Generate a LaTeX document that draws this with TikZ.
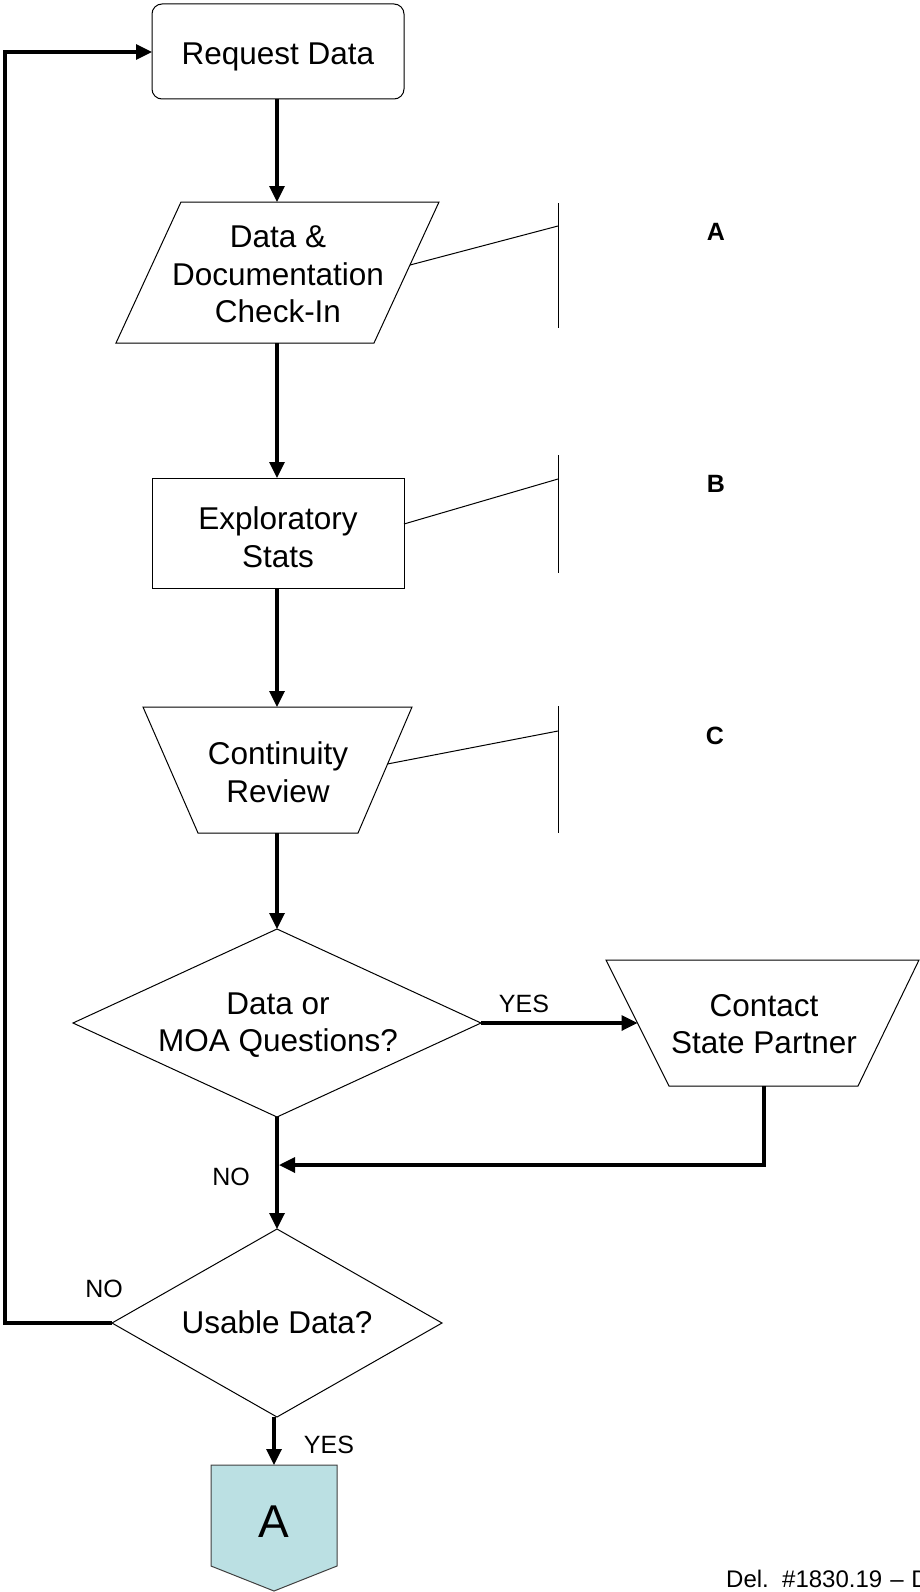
\documentclass[tikz,border=0pt]{standalone}
\usepackage{fontspec}
\setmainfont{Liberation Sans}
\usetikzlibrary{arrows.meta,calc}
\definecolor{offfill}{HTML}{BBE0E3}
\definecolor{offline}{HTML}{404040}
\begin{document}
\begin{tikzpicture}[x=1pt,y=-1pt,
  shp/.style={draw=black, line width=1pt, fill=white, line join=miter},
  conn/.style={draw=black, line width=3.3pt, line join=miter, -{Triangle[length=16pt,width=15pt]}},
  ann/.style={draw=black, line width=1pt},
  txt/.style={font=\fontsize{31.5}{37.5}\selectfont, align=center, inner sep=0pt},
  lbl/.style={font=\fontsize{25}{30}\selectfont, inner sep=0pt, anchor=base},
  blbl/.style={font=\fontsize{25}{30}\selectfont\bfseries, inner sep=0pt, anchor=base},
]
\useasboundingbox (0,0) rectangle (920,1592);

% ---------- Request Data ----------
\coordinate (reqNW) at (152,4);
\coordinate (reqSE) at (404,99);
\coordinate (reqW) at (152,52);
\coordinate (reqS) at (277,99);
\draw[shp, rounded corners=10pt] (reqNW) rectangle (reqSE);
\node[txt, anchor=base] (treq) at (278,65) {Request Data};

% ---------- Data & Documentation Check-In ----------
\coordinate (chkA) at (181,202);
\coordinate (chkB) at (439,202);
\coordinate (chkC) at (374,343);
\coordinate (chkD) at (116,343);
\coordinate (chkN) at (277,202);
\coordinate (chkS) at (277,343);
\draw[shp] (chkA) -- (chkB) -- (chkC) -- (chkD) -- cycle;
\node[txt] (tchk) at (278,274.5) {Data \&\\Documentation\\Check-In};
\coordinate (chkR) at ($(chkB)!0.447!(chkC)$);
\coordinate (annAj) at (558,226);
\coordinate (annAt) at (558,203);
\coordinate (annAb) at (558,328);
\draw[ann] (chkR) -- (annAj);
\draw[ann] (annAt) -- (annAb);
\node[blbl] (labA) at (716,240) {A};

% ---------- Exploratory Stats ----------
\coordinate (expNW) at (152,478);
\coordinate (expSE) at (404,588);
\coordinate (expN) at (277,478);
\coordinate (expS) at (277,588);
\coordinate (expR) at (404,524);
\draw[shp] (expNW) rectangle (expSE);
\node[txt] (texp) at (278,537) {Exploratory\\Stats};
\coordinate (annBj) at (558,479);
\coordinate (annBt) at (558,455);
\coordinate (annBb) at (558,573);
\draw[ann] (expR) -- (annBj);
\draw[ann] (annBt) -- (annBb);
\node[blbl] (labB) at (716,492) {B};

% ---------- Continuity Review ----------
\coordinate (conA) at (143,707);
\coordinate (conB) at (412,707);
\coordinate (conC) at (358,833);
\coordinate (conD) at (198,833);
\coordinate (conN) at (277,707);
\coordinate (conS) at (277,833);
\draw[shp] (conA) -- (conB) -- (conC) -- (conD) -- cycle;
\node[txt] (tcon) at (278,772) {Continuity\\Review};
\coordinate (conR) at ($(conB)!0.452!(conC)$);
\coordinate (annCj) at (558,731);
\coordinate (annCt) at (558,706);
\coordinate (annCb) at (558,833);
\draw[ann] (conR) -- (annCj);
\draw[ann] (annCt) -- (annCb);
\node[blbl] (labC) at (715,744) {C};

% ---------- Diamond 1 ----------
\coordinate (d1N) at (277,929);
\coordinate (d1E) at (481,1023);
\coordinate (d1S) at (277,1117);
\coordinate (d1W) at (73,1023);
\draw[shp] (d1N) -- (d1E) -- (d1S) -- (d1W) -- cycle;
\node[txt] (td1) at (278,1025) {Data or\\MOA Questions?};

% ---------- Contact State Partner ----------
\coordinate (ctA) at (606,960);
\coordinate (ctB) at (919,960);
\coordinate (ctC) at (858,1086);
\coordinate (ctD) at (669,1086);
\coordinate (ctS) at (764,1086);
\coordinate (ctL) at ($(ctA)!0.5!(ctD)$);
\draw[shp] (ctA) -- (ctB) -- (ctC) -- (ctD) -- cycle;
\node[txt] (tct) at (764,1024) {Contact\\State Partner};

% ---------- Diamond 2 ----------
\coordinate (d2N) at (277,1229);
\coordinate (d2E) at (442,1323);
\coordinate (d2S) at (277,1417);
\coordinate (d2W) at (112,1323);
\draw[shp] (d2N) -- (d2E) -- (d2S) -- (d2W) -- cycle;
\node[txt, anchor=base] (td2) at (277,1333) {Usable Data?};

% ---------- Off-page connector ----------
\coordinate (offA) at (211,1465);
\coordinate (offB) at (337,1465);
\coordinate (offC) at (337,1566);
\coordinate (offD) at (274,1591);
\coordinate (offE) at (211,1566);
\coordinate (offN) at (274,1465);
\draw[draw=offline, line width=1pt, fill=offfill] (offA) -- (offB) -- (offC) -- (offD) -- (offE) -- cycle;
\node[font=\fontsize{46}{55}\selectfont, inner sep=0pt, anchor=base] (toff) at (274,1537) {A};

% ---------- Connectors ----------
\coordinate (merge) at (279,1165);
\coordinate (loopB) at (5,1323);
\coordinate (loopT) at (5,52);
\draw[conn] (reqS) -- (chkN);
\draw[conn] (chkS) -- (expN);
\draw[conn] (expS) -- (conN);
\draw[conn] (conS) -- (d1N);
\draw[conn] (d1S) -- (d2N);
\draw[conn] (d1E) -- (ctL);
\draw[conn] (ctS) |- (merge);
\draw[conn] (d2S -| offN) -- (offN);
\draw[conn] (d2W) -- (loopB) -- (loopT) -- (reqW);

% ---------- Labels ----------
\node[lbl] (yes1) at (524,1012) {YES};
\node[lbl] (no1) at (231,1185) {NO};
\node[lbl] (no2) at (104,1297) {NO};
\node[lbl] (yes2) at (329,1453) {YES};
\node[font=\fontsize{24}{28}\selectfont, inner sep=0pt, anchor=base west] (del) at (726,1587) {Del.\ \ \#1830.19\kern1.5pt\ --\kern1pt\ D};
\end{tikzpicture}
\end{document}
